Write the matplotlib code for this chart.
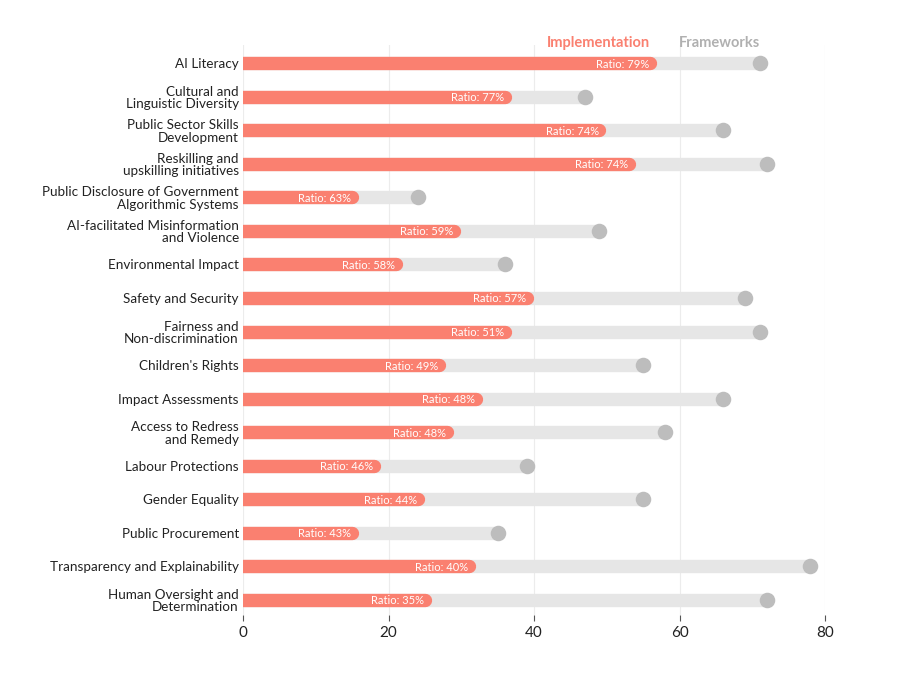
import matplotlib.pyplot as plt

categories = [
    "AI Literacy",
    "Cultural and\nLinguistic Diversity",
    "Public Sector Skills\nDevelopment",
    "Reskilling and\nupskilling initiatives",
    "Public Disclosure of Government\nAlgorithmic Systems",
    "AI-facilitated Misinformation\nand Violence",
    "Environmental Impact",
    "Safety and Security",
    "Fairness and\nNon-discrimination",
    "Children's Rights",
    "Impact Assessments",
    "Access to Redress\nand Remedy",
    "Labour Protections",
    "Gender Equality",
    "Public Procurement",
    "Transparency and Explainability",
    "Human Oversight and\nDetermination",
]
frameworks = [71, 47, 66, 72, 24, 49, 36, 69, 71, 55, 66, 58, 39, 55, 35, 78, 72]
implementation = [56, 36, 49, 53, 15, 29, 21, 39, 36, 27, 32, 28, 18, 24, 15, 31, 25]
ratios = [79, 77, 74, 74, 63, 59, 58, 57, 51, 49, 48, 48, 46, 44, 43, 40, 35]

IMPL_COLOR = "#fa8070"
FW_BAR = "#e6e6e6"
FW_DOT = "#bdbdbd"

plt.rcParams["font.family"] = ["Lato", "DejaVu Sans"]

fig = plt.figure(figsize=(9, 6.83), dpi=100)
ax = fig.add_axes([243 / 900, 1 - 615 / 683, (825 - 243) / 900, 570 / 683])

ypos = list(range(len(categories)))
for y, fw, imp, r in zip(ypos, frameworks, implementation, ratios):
    ax.plot([0, fw], [y, y], color=FW_BAR, lw=9.6, solid_capstyle="butt", zorder=2)
    ax.plot([-5, imp], [y, y], color=IMPL_COLOR, lw=9.6, solid_capstyle="round", zorder=3)
    ax.text(imp - 0.1, y, f"Ratio: {r}%", color="white", fontsize=8,
            ha="right", va="center_baseline", zorder=4)
ax.scatter(frameworks, ypos, s=125, color=FW_DOT, zorder=3, linewidths=0)

ax.set_xlim(0, 80)
ax.set_ylim(16.45, -0.54)
ax.set_yticks(ypos)
ax.set_yticklabels(categories, fontsize=9.7, color="#222222", linespacing=1.05)
ax.tick_params(axis="y", length=0, pad=3)
ax.set_xticks([0, 20, 40, 60, 80])
ax.tick_params(axis="x", length=4, width=0.8, color="#555555", pad=4,
               labelsize=11, labelcolor="#222222", direction="out")
ax.xaxis.grid(True, color="#ececec", lw=0.8, zorder=0)
ax.set_axisbelow(True)
for s in ax.spines.values():
    s.set_visible(False)

ax.text(48.8, -0.6, "Implementation", color=IMPL_COLOR, fontsize=10.5,
        fontweight="bold", ha="center", va="center")
ax.text(65.5, -0.6, "Frameworks", color="#b0b0b0", fontsize=10.5,
        fontweight="bold", ha="center", va="center")

fig.savefig("out.png", dpi=100)
